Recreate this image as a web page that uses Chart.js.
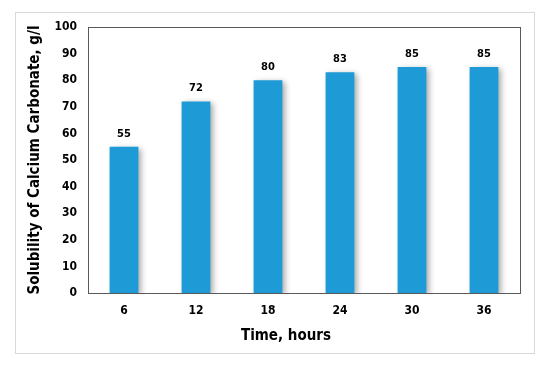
<!DOCTYPE html>
<html>
<head>
<meta charset="utf-8">
<script src="https://cdn.jsdelivr.net/npm/chart.js@4/dist/chart.umd.min.js"></script>
<style>
  html, body { margin: 0; padding: 0; background: #fff; }
  #wrap { width: 550px; height: 367px; }
</style>
</head>
<body>
<div id="wrap"><canvas id="chart" width="550" height="367"></canvas></div>
<script>
const hours = ['6', '12', '18', '24', '30', '36'];
const solubility = [55, 72, 80, 83, 85, 85];
const yTicks = [0, 10, 20, 30, 40, 50, 60, 70, 80, 90, 100];
const xTitle = 'Time, hours';
const yTitle = 'Solubility of Calcium Carbonate, g/l';

const FONT = "'DejaVu Sans Condensed', 'DejaVu Sans', Verdana, sans-serif";

// outer frame + box around the plot area + x title
const framePlugin = {
  id: 'frame',
  beforeDraw(chart) {
    const ctx = chart.ctx;
    ctx.save();
    ctx.fillStyle = '#fff';
    ctx.fillRect(0, 0, chart.width, chart.height);
    ctx.strokeStyle = '#d9d9d9';
    ctx.lineWidth = 1;
    ctx.strokeRect(15.5, 12.5, 519, 341);
    ctx.restore();
  },
  afterDraw(chart) {
    const a = chart.chartArea;
    const ctx = chart.ctx;
    ctx.save();
    ctx.strokeStyle = '#595959';
    ctx.lineWidth = 1;
    ctx.strokeRect(Math.round(a.left) + 0.5, Math.round(a.top) + 0.5,
      Math.round(a.right - a.left), Math.round(a.bottom - a.top));
    // x axis title sits a bit left of the plot centre in the original
    ctx.font = 'bold 15px ' + FONT;
    ctx.fillStyle = '#000';
    ctx.textAlign = 'center';
    ctx.textBaseline = 'middle';
    ctx.fillText(xTitle, (a.left + a.right) / 2 - 18, 336);
    ctx.restore();
  }
};

// soft shadow behind the bars
const shadowPlugin = {
  id: 'barShadow',
  beforeDatasetsDraw(chart) {
    const ctx = chart.ctx;
    ctx.save();
    ctx.shadowColor = 'rgba(0,0,0,0.35)';
    ctx.shadowBlur = 6;
    ctx.shadowOffsetX = 3;
    ctx.shadowOffsetY = 2;
  },
  afterDatasetsDraw(chart) {
    chart.ctx.restore();
  }
};

// value labels above the bars
const labelPlugin = {
  id: 'valueLabels',
  afterDatasetsDraw(chart) {
    const ctx = chart.ctx;
    const meta = chart.getDatasetMeta(0);
    ctx.save();
    ctx.font = 'bold 11px ' + FONT;
    ctx.fillStyle = '#000';
    ctx.textAlign = 'center';
    ctx.textBaseline = 'middle';
    meta.data.forEach((bar, i) => {
      ctx.fillText(solubility[i], bar.x, bar.y - 13);
    });
    ctx.restore();
  }
};

new Chart(document.getElementById('chart'), {
  type: 'bar',
  data: {
    labels: hours,
    datasets: [{
      data: solubility,
      backgroundColor: '#1e9bd7',
      borderWidth: 0,
      categoryPercentage: 1,
      barPercentage: 0.4
    }]
  },
  options: {
    responsive: false,
    animation: false,
    layout: { padding: { left: 0, right: 30, top: 27, bottom: 14 } },
    plugins: {
      legend: { display: false },
      tooltip: { enabled: false }
    },
    scales: {
      x: {
        grid: { display: false, drawTicks: false },
        border: { display: false },
        ticks: {
          color: '#000',
          padding: 11,
          font: { family: FONT, size: 12, weight: 'bold' }
        },
        afterFit(scale) { scale.height = 60; }
      },
      y: {
        min: 0,
        max: 100,
        afterBuildTicks(scale) {
          scale.ticks = yTicks.map(v => ({ value: v }));
        },
        grid: { display: false, drawTicks: false },
        border: { display: false },
        ticks: {
          color: '#000',
          padding: 11,
          font: { family: FONT, size: 12, weight: 'bold' }
        },
        title: {
          display: true,
          text: yTitle,
          color: '#000',
          padding: { top: 26, bottom: 0 },
          font: { family: FONT, size: 15, weight: 'bold' }
        },
        afterFit(scale) { scale.width = 88; }
      }
    }
  },
  plugins: [framePlugin, shadowPlugin, labelPlugin]
});
</script>
</body>
</html>
